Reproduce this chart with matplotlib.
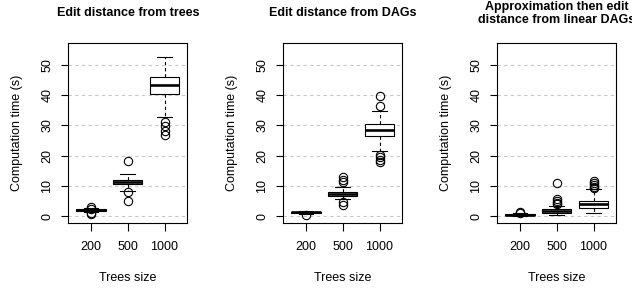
import matplotlib
matplotlib.use("Agg")
import matplotlib.pyplot as plt

plt.rcParams['font.family'] = ['Liberation Sans', 'DejaVu Sans']

sizes = ['200', '500', '1000']
titles = ['Edit distance from trees',
          'Edit distance from DAGs',
          'Approximation then edit\ndistance from linear DAGs']

# box statistics, one list per panel (200, 500, 1000)
trees_q1 = [1.6, 10.5, 40.3]
trees_med = [1.9, 11.3, 43.3]
trees_q3 = [2.2, 12.1, 45.9]
trees_lo = [1.2, 8.4, 32.7]
trees_hi = [2.6, 13.9, 52.6]
trees_out = [[2.9, 2.5, 1.0, 0.6], [18.3, 7.8, 5.1], [31.2, 29.7, 28.2, 26.8]]

dags_q1 = [1.0, 6.8, 26.6]
dags_med = [1.2, 7.4, 28.6]
dags_q3 = [1.4, 8.1, 30.5]
dags_lo = [0.7, 5.5, 21.5]
dags_hi = [1.8, 9.7, 34.8]
dags_out = [[0.4], [12.9, 12.0, 11.3, 4.6, 3.5], [39.8, 36.6, 20.3, 19.5, 18.7, 17.8]]

lin_q1 = [0.35, 0.9, 2.7]
lin_med = [0.5, 1.6, 3.9]
lin_q3 = [0.6, 2.2, 5.1]
lin_lo = [0.1, 0.2, 1.0]
lin_hi = [0.9, 3.4, 8.9]
lin_out = [[1.3, 1.1], [10.8, 5.6, 4.9, 4.3, 3.9], [11.7, 11.0, 10.2, 9.6, 9.2]]

panels = [
    (trees_q1, trees_med, trees_q3, trees_lo, trees_hi, trees_out),
    (dags_q1, dags_med, dags_q3, dags_lo, dags_hi, dags_out),
    (lin_q1, lin_med, lin_q3, lin_lo, lin_hi, lin_out),
]

W, H = 632, 289
fig = plt.figure(figsize=(W / 100, H / 100), dpi=100)
lefts = [68.3, 283.3, 497.3]
ax_w, ax_top, ax_bot = 119, 43.3, 222.7

for left, title, (q1, med, q3, lo, hi, out) in zip(lefts, titles, panels):
    ax = fig.add_axes([left / W, 1 - ax_bot / H, ax_w / W, (ax_bot - ax_top) / H])
    stats = []
    for i in range(3):
        stats.append(dict(q1=q1[i], med=med[i], q3=q3[i],
                          whislo=lo[i], whishi=hi[i], fliers=out[i]))
    ax.bxp(stats, positions=[1, 2, 3], widths=0.8, capwidths=0.4,
           patch_artist=True, manage_ticks=False,
           boxprops=dict(facecolor='white', edgecolor='black', linewidth=0.8),
           medianprops=dict(color='black', linewidth=1.9, solid_capstyle='butt'),
           whiskerprops=dict(color='black', linewidth=0.8, linestyle=(0, (3, 2.5))),
           capprops=dict(color='black', linewidth=0.8),
           flierprops=dict(marker='o', markerfacecolor='none',
                           markeredgecolor='black', markersize=6,
                           markeredgewidth=0.8),
           zorder=3)
    for y in range(0, 60, 10):
        ax.axhline(y, color='#c8c8c8', linewidth=0.8, linestyle=(0, (3, 3)), zorder=1)

    ax.set_xlim(0.38, 3.62)
    ax.set_ylim(-2.2, 57.2)
    ax.set_xticks([1, 2, 3])
    ax.set_xticklabels(sizes)
    ax.set_yticks(range(0, 60, 10))
    ax.tick_params(axis='y', labelrotation=90, length=5.2, width=0.8, pad=5.5,
                   labelsize=9)
    for lab in ax.get_yticklabels():
        lab.set_va('center')
    ax.tick_params(axis='x', length=5.5, width=0.8, pad=8, labelsize=9)
    for sp in ax.spines.values():
        sp.set_linewidth(0.8)

    ax.annotate(title, xy=(0.5, 1), xycoords='axes fraction',
                xytext=(0, 21.5), textcoords='offset points',
                ha='center', va='center', fontsize=9, fontweight='bold',
                linespacing=1.15)
    ax.annotate('Computation time (s)', xy=(0, 0.5), xycoords='axes fraction',
                xytext=(-36.6, 0), textcoords='offset points',
                ha='center', va='center', rotation=90, fontsize=9)
    ax.annotate('Trees size', xy=(0.5, 0), xycoords='axes fraction',
                xytext=(0, -40), textcoords='offset points',
                ha='center', va='center', fontsize=9)

fig.savefig('out.png', dpi=100)
